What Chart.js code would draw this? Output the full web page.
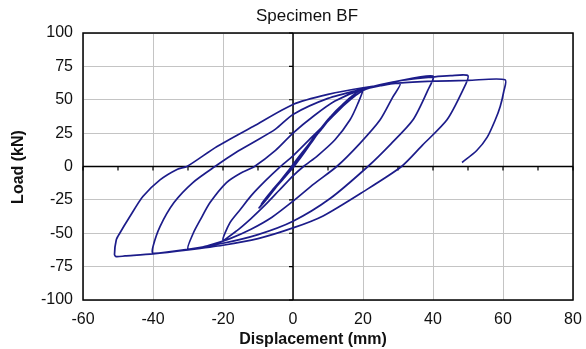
<!DOCTYPE html>
<html>
<head>
<meta charset="utf-8">
<script src="https://cdn.jsdelivr.net/npm/chart.js@4.4.1/dist/chart.umd.min.js"></script>
<style>
  html, body { margin: 0; padding: 0; background: #fff; }
  #wrap { width: 586px; height: 349px; }
</style>
</head>
<body>
<div id="wrap"><canvas id="myChart" width="586" height="349"></canvas></div>
<script>
// tick values
const xTicks = [-60, -40, -20, 0, 20, 40, 60, 80];
const yTicks = [-100, -75, -50, -25, 0, 25, 50, 75, 100];

// hysteresis path, one branch per line (displacement mm / load kN)
const disp10 = [0, 3, 6, 9, 10.6, 8, 5, 2, 0, -3, -6, -8.5, -9.7, -8, -5, -2, 0, 3, 6, 9, 11,
  8.5, 5, 2, 0, -3, -6, -9, -7, -4, -1, 1, 4, 7, 10, 12, 14, 17, 20];
const load10 = [0, 11, 22, 32, 37, 28, 17, 6, -1, -10, -19, -27, -31, -26, -16, -6, 1, 11, 21, 31, 38,
  29, 18, 7, 0, -9, -18, -28, -22, -12, -2, 5, 15, 25, 35, 41, 46, 53, 58];

const disp20 = [18.5, 16.3, 12, 7, 3, 0, -4, -8, -12, -16, -20,
  -18, -15, -12, -8, -4, 0, 5, 10, 15, 20, 25, 30.6];
const load20 = [47, 35, 20, 8, 0, -7, -18, -29, -39, -48, -55,
  -42, -32, -22, -11, -1, 8, 21, 34, 47, 57, 60.5, 62];

const disp30 = [28.5, 24.9, 19, 12.5, 6, 0, -6, -12, -18, -24, -30,
  -28.5, -26.5, -23.7, -19, -15, -11, -5, 0, 6, 12, 20, 30, 40];
const load30 = [52, 35, 17, 0, -13, -26, -38, -47, -54, -59, -62,
  -50, -40, -27, -12, -5, 0, 12, 25, 38, 49, 58, 64, 67.7];

const disp40 = [38.5, 34.3, 28, 21.4, 10.6, 0, -10, -20, -30, -40,
  -40, -38, -34, -28.6, -22.3, -16, -11.4, -5, 0, 10, 20, 30, 40, 45, 50];
const load40 = [57, 35, 17, 0, -24, -41, -51, -57.5, -62, -65,
  -60, -45, -27, -12, 0, 11, 18, 28, 39, 51, 58, 64, 67, 68, 68];

const disp50 = [48.5, 44, 37, 31, 20, 8.6, 0, -10, -20, -30, -40, -48, -50.5,
  -51, -50.5, -49.5, -46.6, -42.9, -38, -33, -30.3, -21.7, -11.4, 0, 10, 20, 30, 40, 50, 60.6];
const load50 = [57, 35, 16, 0, -19, -37, -46, -54, -59, -62.5, -65.5, -67, -67.5,
  -66, -55, -50, -37.5, -22.5, -10, -2, 0, 15, 30, 46.5, 54, 59, 62.5, 64, 64.5, 65];

const disp60 = [60.2, 59.2, 57.8, 55.5, 52.5, 48.3];
const load60 = [56, 45, 35, 22, 12, 3];

const displacement = [].concat(disp10, disp20, disp30, disp40, disp50, disp60);
const load = [].concat(load10, load20, load30, load40, load50, load60);

const points = displacement.map((d, i) => ({ x: d, y: load[i] }));

const LINE_COLOR = 'rgb(28, 28, 138)';
const FONT = 'Arial, "Liberation Sans", sans-serif';

// frame, zero axes with their little tick marks, titles
const decorations = {
  id: 'decorations',
  beforeDatasetsDraw(chart) {
    const { ctx, chartArea: a, scales: { x, y } } = chart;
    ctx.save();
    ctx.strokeStyle = '#000';
    ctx.lineWidth = 1.5;
    ctx.strokeRect(a.left, a.top, a.right - a.left, a.bottom - a.top);

    const x0 = x.getPixelForValue(0);
    const y0 = y.getPixelForValue(0);
    ctx.beginPath();
    ctx.moveTo(a.left, y0); ctx.lineTo(a.right, y0);
    ctx.moveTo(x0, a.top); ctx.lineTo(x0, a.bottom);
    ctx.stroke();

    ctx.lineWidth = 1.2;
    ctx.beginPath();
    for (let v = -60; v <= 80; v += 10) {
      const px = x.getPixelForValue(v);
      ctx.moveTo(px, y0); ctx.lineTo(px, y0 + 4);
    }
    for (let i = 0; i < yTicks.length; i++) {
      const py = y.getPixelForValue(yTicks[i]);
      ctx.moveTo(x0, py); ctx.lineTo(x0 - 4, py);
    }
    ctx.stroke();
    ctx.restore();
  },
  afterDraw(chart) {
    const { ctx } = chart;
    ctx.save();
    ctx.fillStyle = '#111';
    ctx.textAlign = 'center';
    ctx.textBaseline = 'middle';
    ctx.font = '17px ' + FONT;
    ctx.fillText('Specimen BF', 307, 16);
    ctx.font = 'bold 16px ' + FONT;
    ctx.fillText('Displacement (mm)', 313, 340);
    ctx.translate(19, 167);
    ctx.rotate(-Math.PI / 2);
    ctx.fillText('Load (kN)', 0, 0);
    ctx.restore();
  }
};

const config = {
  type: 'scatter',
  data: {
    datasets: [{
      data: points,
      showLine: true,
      borderColor: LINE_COLOR,
      borderWidth: 1.7,
      pointRadius: 0,
      tension: 0.25,
      fill: false
    }]
  },
  options: {
    responsive: false,
    animation: false,
    layout: { padding: { top: 33, right: 13, left: 0, bottom: 0 } },
    plugins: { legend: { display: false }, tooltip: { enabled: false }, title: { display: false } },
    scales: {
      x: {
        type: 'linear', min: -60, max: 80,
        afterBuildTicks(scale) { scale.ticks = xTicks.map(v => ({ value: v })); },
        afterFit(scale) { scale.height = 49; scale.paddingLeft = 0; scale.paddingRight = 0; },
        grid: { color: '#c4c4c4', lineWidth: 1, drawTicks: false },
        border: { display: false },
        ticks: { padding: 10, color: '#111', font: { size: 16, family: FONT }, maxRotation: 0 }
      },
      y: {
        type: 'linear', min: -100, max: 100,
        afterBuildTicks(scale) { scale.ticks = yTicks.map(v => ({ value: v })); },
        afterFit(scale) { scale.width = 83; scale.paddingTop = 0; scale.paddingBottom = 0; },
        grid: { color: '#c4c4c4', lineWidth: 1, drawTicks: false },
        border: { display: false },
        ticks: { padding: 10, color: '#111', font: { size: 16, family: FONT } }
      }
    }
  },
  plugins: [decorations]
};

const myChart = new Chart(document.getElementById('myChart'), config);
</script>
</body>
</html>
